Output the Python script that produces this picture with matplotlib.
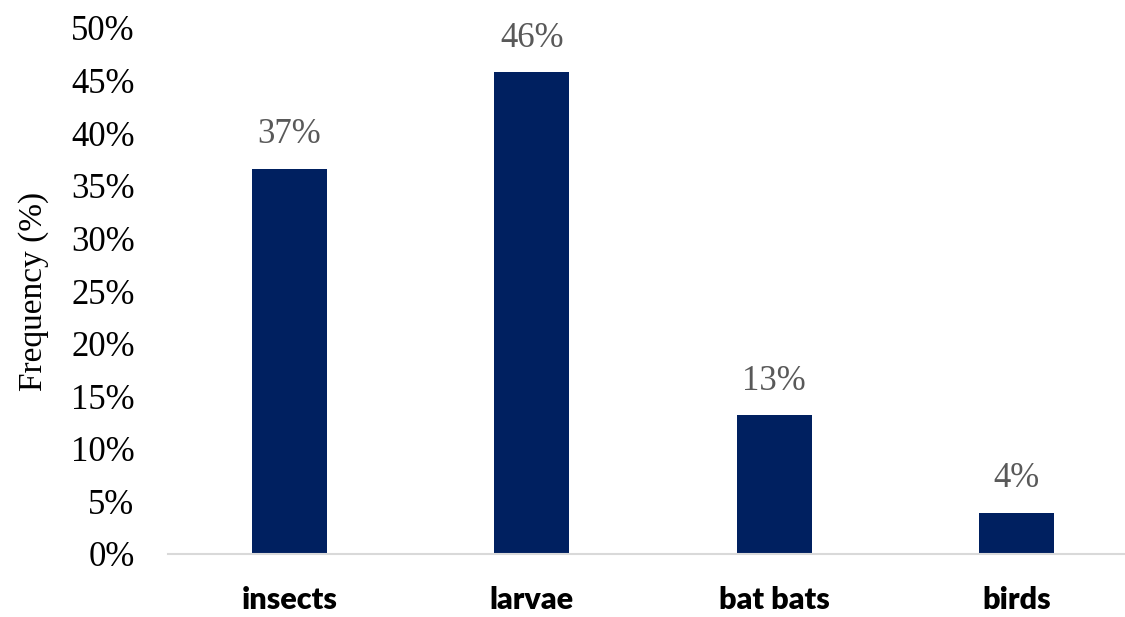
import matplotlib.pyplot as plt

categories = ['insects', 'larvae', 'bat bats', 'birds']
values     = [36.6, 45.8, 13.2, 3.9]
labels     = ['37%', '46%', '13%', '4%']
yticks     = [0, 5, 10, 15, 20, 25, 30, 35, 40, 45, 50]

BAR  = '#002060'
GREY = '#595959'

plt.rcParams['font.family'] = 'serif'
plt.rcParams['font.serif']  = ['Liberation Serif', 'Times New Roman', 'DejaVu Serif']

fig = plt.figure(figsize=(11.25, 6.17), dpi=100)
ax  = fig.add_axes([168/1125, 63/617, 957/1125, 526/617])

x = range(len(categories))
bars = ax.bar(x, values, width=0.31, color=BAR)
for b, lab in zip(bars, labels):
    ax.annotate(lab, (b.get_x() + b.get_width()/2, b.get_height()),
                xytext=(0, 34), textcoords='offset pixels', ha='center', va='center',
                fontsize=25, color=GREY)

ax.set_xlim(-0.5, 3.446)
ax.set_ylim(0, 50)
ax.set_yticks(yticks)
ax.set_yticklabels([f'{t}%' for t in yticks], fontsize=25)
ax.set_xticks(list(x))
ax.set_xticklabels(categories, family='Lato', fontweight='heavy', fontsize=22)
ax.tick_params(axis='y', length=0, pad=24)
ax.tick_params(axis='x', length=0, pad=23)
ax.set_ylabel('Frequency (%)', fontsize=24, labelpad=16)

for s in ('top', 'right', 'left'):
    ax.spines[s].set_visible(False)
ax.spines['bottom'].set_color('#d9d9d9')
ax.spines['bottom'].set_linewidth(1.5)

fig.savefig('out.png', dpi=100)
